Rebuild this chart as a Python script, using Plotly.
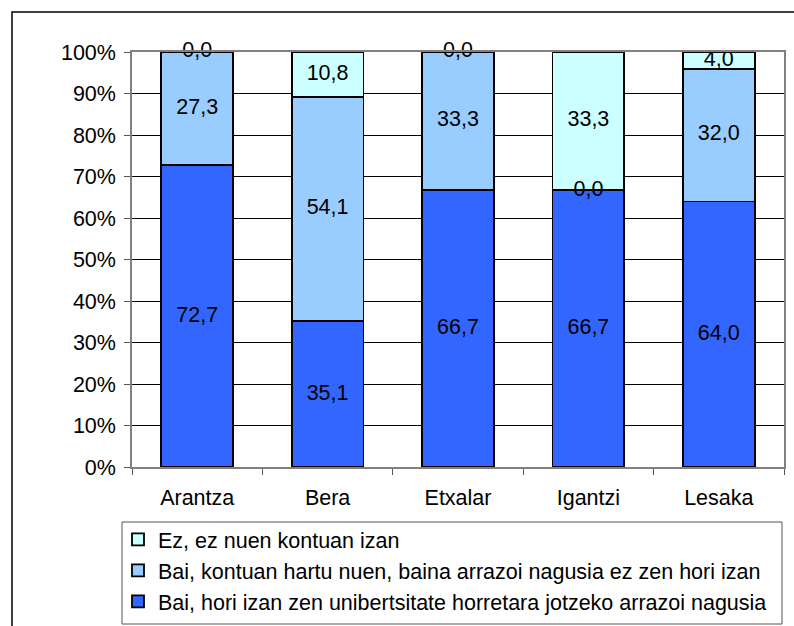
import plotly.graph_objects as go

categories = ["Arantza", "Bera", "Etxalar", "Igantzi", "Lesaka"]
series_names = [
    "Bai, hori izan zen unibertsitate horretara jotzeko arrazoi nagusia",
    "Bai, kontuan hartu nuen, baina arrazoi nagusia ez zen hori izan",
    "Ez, ez nuen kontuan izan",
]
s_main = [72.7, 35.1, 66.7, 66.7, 64.0]
s_considered = [27.3, 54.1, 33.3, 0.0, 32.0]
s_no = [0.0, 10.8, 0.0, 33.3, 4.0]
series_values = [s_main, s_considered, s_no]
colors = ["#3366FF", "#99CCFF", "#CCFFFF"]
y_ticks = [0, 0.1, 0.2, 0.3, 0.4, 0.5, 0.6, 0.7, 0.8, 0.9, 1.0]

FONT = "Liberation Sans, Arial, sans-serif"
FS = 21.5
W, H = 794, 626
L, R, T, B = 132, 10, 52, 159
pw, ph = W - L - R, H - T - B

def px_x(x):
    return (x - L) / pw

def px_y(y):
    return (H - B - y) / ph

fig = go.Figure()
base = [0.0] * len(categories)
lab_x, lab_y, lab_t = [], [], []
n = len(series_names)
for i, (name, vals, col) in enumerate(zip(series_names, series_values, colors)):
    fig.add_trace(go.Bar(
        x=categories, y=[v / 100 for v in vals], name=name,
        marker=dict(color=col, line=dict(color="black", width=1.8)),
        legendgroup=f"g{i}", legendrank=n - i, hoverinfo="skip",
    ))
    for c, v, b in zip(categories, vals, base):
        lab_x.append(c)
        lab_y.append((b + v / 2) / 100)
        lab_t.append(f"{v:.1f}".replace(".", ","))
    base = [b + v for b, v in zip(base, vals)]

fig.add_trace(go.Scatter(
    x=lab_x, y=lab_y, text=lab_t, mode="text", showlegend=False,
    textfont=dict(family=FONT, size=FS, color="black"), cliponaxis=False,
    hoverinfo="skip",
))

fig.update_layout(
    width=W, height=H, margin=dict(l=L, r=R, t=T, b=B, autoexpand=False),
    barmode="stack", bargap=0.45,
    paper_bgcolor="white", plot_bgcolor="white",
    font=dict(family=FONT, size=FS, color="black"),
    legend=dict(
        traceorder="grouped", tracegroupgap=0,
        x=px_x(118), y=px_y(519), xanchor="left", yanchor="top",
        bgcolor="rgba(0,0,0,0)", font=dict(family=FONT, size=FS),
    ),
    xaxis=dict(
        type="category", tickson="boundaries", ticks="outside", ticklen=6,
        tickcolor="#555555", showline=True, linecolor="#808080", linewidth=1.5,
        mirror=True, showgrid=False, tickfont=dict(family=FONT, size=FS),
        ticklabelstandoff=10,
    ),
    yaxis=dict(
        range=[0, 1], tickvals=y_ticks, tickformat=".0%", ticks="outside",
        ticklen=6, tickcolor="#555555", showline=True, linecolor="#808080",
        linewidth=1.5, mirror=True, showgrid=True, gridcolor="black",
        gridwidth=1, zeroline=False, tickfont=dict(family=FONT, size=FS),
        ticklabelstandoff=4,
    ),
    shapes=[
        dict(type="rect", xref="paper", yref="paper",
             x0=px_x(12), x1=px_x(820), y0=px_y(660), y1=px_y(12),
             line=dict(color="black", width=1.5), fillcolor="rgba(0,0,0,0)",
             layer="below"),
        dict(type="rect", xref="paper", yref="paper",
             x0=px_x(122), x1=px_x(782), y0=px_y(624), y1=px_y(522),
             line=dict(color="#555555", width=1), fillcolor="rgba(0,0,0,0)"),
    ],
)

fig.write_html("out.html", config={"displayModeBar": False},
               post_script="document.body.style.margin='0px';")
